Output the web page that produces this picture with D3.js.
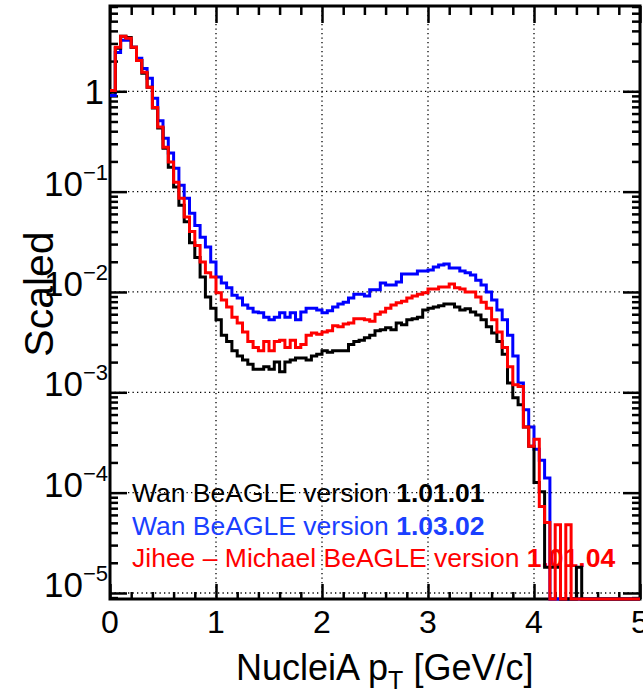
<!DOCTYPE html>
<html lang="en">
<head>
<meta charset="UTF-8" />
<title>NucleiA pT</title>
<script src="https://d3js.org/d3.v7.min.js"></script>
<style>
  body { margin: 0; background: #fff; }
  svg { display: block; font-family: 'Liberation Sans', Arial, sans-serif; }
  .domain { display: none; }
  .tick line { stroke: #000; stroke-width: 2.5; }
  .grid line { stroke: #000; stroke-width: 1.3; stroke-dasharray: 1.3 3.2; }
</style>
</head>
<body>
<div id="chart"></div>
<script>
// histogram: 0.05 GeV/c bins from 0; bins past the end of each list are empty
const binWidth = 0.05
const xDomain = [0, 5]

const blackVals = [
  0.98, 2.68, 3.53, 3.44, 2.74, 2.03, 1.51, 1.10, 0.68, 0.43,
  0.271, 0.175, 0.111, 0.073, 0.050, 0.031, 0.022, 0.0141, 0.0089, 0.0069,
  0.0053, 0.0037, 0.0032, 0.0026, 0.0023, 0.0021, 0.0019, 0.0017, 0.0017, 0.0018,
  0.0017, 0.0020, 0.0016, 0.0020, 0.0021, 0.0022, 0.0022, 0.0021, 0.0023, 0.0024,
  0.0026, 0.0025, 0.0026, 0.0026, 0.0026, 0.0030, 0.0032, 0.0033, 0.0035, 0.0037,
  0.0041, 0.0042, 0.0044, 0.0042, 0.0049, 0.0047, 0.0053, 0.0054, 0.0056, 0.0066,
  0.0069, 0.0071, 0.0073, 0.0076, 0.0076, 0.0071, 0.0066, 0.0068, 0.0063, 0.0059,
  0.0053, 0.0045, 0.0039, 0.0032, 0.0024, 0.00124, 0.00088, 0.00075, 0.00045, 0.00029,
  0.000126, 0.000102, 0.000018, 0.000018, 0.000018, 0, 0, 0, 0.000018
]
const blueVals = [
  0.91, 2.44, 3.22, 3.22, 2.74, 2.13, 1.69, 1.35, 0.85, 0.51,
  0.34, 0.242, 0.171, 0.116, 0.086, 0.061, 0.046, 0.035, 0.028, 0.0199,
  0.0141, 0.0123, 0.0110, 0.0093, 0.0087, 0.0074, 0.0069, 0.0063, 0.0062, 0.0056,
  0.0053, 0.0056, 0.0062, 0.0056, 0.0062, 0.0053, 0.0063, 0.0069, 0.0069, 0.0066,
  0.0062, 0.0065, 0.0071, 0.0076, 0.0079, 0.0087, 0.0095, 0.0095, 0.0091, 0.0105,
  0.0105, 0.0123, 0.0117, 0.0117, 0.0126, 0.0151, 0.0151, 0.0151, 0.0162, 0.0162,
  0.0166, 0.0177, 0.0186, 0.0190, 0.0173, 0.0173, 0.0162, 0.0155, 0.0148, 0.0131,
  0.0117, 0.0100, 0.0083, 0.0066, 0.0053, 0.0037, 0.0023, 0.00124, 0.00067, 0.00045,
  0.00027, 0.00021, 0.00014
]
const redVals = [
  1.02, 2.74, 3.53, 3.37, 2.74, 2.03, 1.55, 1.10, 0.69, 0.44,
  0.277, 0.197, 0.124, 0.086, 0.056, 0.040, 0.029, 0.0199, 0.0155, 0.0141,
  0.0098, 0.0083, 0.0071, 0.0056, 0.0049, 0.0040, 0.0032, 0.0028, 0.0026, 0.0032,
  0.0026, 0.0032, 0.0033, 0.0028, 0.0033, 0.0028, 0.0030, 0.0037, 0.0039, 0.0038,
  0.0040, 0.0041, 0.0046, 0.0045, 0.0048, 0.0049, 0.0054, 0.0054, 0.0053, 0.0051,
  0.0060, 0.0063, 0.0069, 0.0074, 0.0078, 0.0081, 0.0087, 0.0091, 0.0095, 0.0098,
  0.0107, 0.0107, 0.0112, 0.0112, 0.0120, 0.0110, 0.0107, 0.0100, 0.0100, 0.0089,
  0.0079, 0.0069, 0.0053, 0.0040, 0.0028, 0.0018, 0.00119, 0.00114, 0.00045, 0.00029,
  0.00034, 0.0000726, 0.0000503, 0, 0.000048, 0, 0.000048
]

const seriesColors = ['#0000ff', '#000000', '#ff0000']
const seriesVals = [blueVals, blackVals, redVals]

const legendPrefix = ['Wan BeAGLE version ', 'Wan BeAGLE version ', 'Jihee \u2013 Michael BeAGLE version ']
const legendVersion = ['1.01.01', '1.03.02', '1.01.04']
const legendColors = ['#000000', '#1a40ff', '#ff0000']

const xTicks = [0, 1, 2, 3, 4, 5]
const yDecades = [1e-5, 1e-4, 1e-3, 1e-2, 1e-1, 1]
const yLabelBase = ['10', '10', '10', '10', '10', '1']
const yLabelExp = ['\u22125', '\u22124', '\u22123', '\u22122', '\u22121', '']

const width = 643
const height = 697
const pLeft = 110, pRight = 640, pTop = 6, pBottom = 599

const svg = d3.select('#chart').append('svg')
  .attr('width', width)
  .attr('height', height)

const x = d3.scaleLinear().domain(xDomain).range([pLeft, pRight])
const y = d3.scaleLog().domain([Math.pow(10, -5.06), Math.pow(10, 0.85)]).range([pBottom, pTop])

// dotted grid
const grid = svg.append('g').attr('class', 'grid')
grid.selectAll('.gx').data(xTicks.slice(1, -1)).enter().append('line')
  .attr('x1', d => x(d)).attr('x2', d => x(d))
  .attr('y1', pTop).attr('y2', pBottom)
grid.selectAll('.gy').data(yDecades).enter().append('line')
  .attr('x1', pLeft).attr('x2', pRight)
  .attr('y1', d => y(d)).attr('y2', d => y(d))

// tick marks on all four sides, pointing inward
const minorX = d3.range(0, 5.001, 0.2).filter(v => Math.abs(v - Math.round(v)) > 1e-6)
const minorY = y.ticks().filter(v => !yDecades.some(d => Math.abs(v / d - 1) < 1e-6))

const axes = [
  [d3.axisBottom(x).tickValues(xTicks).tickSize(-15), d3.axisBottom(x).tickValues(minorX).tickSize(-7), `translate(0,${pBottom})`],
  [d3.axisTop(x).tickValues(xTicks).tickSize(-17), d3.axisTop(x).tickValues(minorX).tickSize(-9), `translate(0,${pTop})`],
  [d3.axisLeft(y).tickValues(yDecades).tickSize(-17), d3.axisLeft(y).tickValues(minorY).tickSize(-8), `translate(${pLeft},0)`],
  [d3.axisRight(y).tickValues(yDecades).tickSize(-17), d3.axisRight(y).tickValues(minorY).tickSize(-8), `translate(${pRight},0)`]
]
axes.forEach(([major, minor, tr]) => {
  svg.append('g').attr('transform', tr).call(major.tickFormat(''))
  svg.append('g').attr('transform', tr).call(minor.tickFormat(''))
})

svg.append('rect')
  .attr('x', pLeft).attr('y', pTop)
  .attr('width', pRight - pLeft).attr('height', pBottom - pTop)
  .attr('fill', 'none').attr('stroke', '#000').attr('stroke-width', 3)

// tick labels
svg.selectAll('.xl').data(xTicks).enter().append('text')
  .attr('x', d => x(d)).attr('y', 633)
  .attr('text-anchor', 'middle')
  .attr('font-size', 32)
  .text(d => d)

const yl = svg.selectAll('.yl').data(yDecades).enter().append('text')
  .attr('text-anchor', 'end')
  .attr('font-size', 35)
  .attr('x', (d, i) => (yLabelExp[i] ? 108 : 104))
  .attr('y', (d, i) => y(d) + (yLabelExp[i] ? 4 : 13))
yl.append('tspan').text((d, i) => yLabelBase[i])
yl.append('tspan')
  .attr('font-size', 22)
  .attr('dy', (d, i) => (yLabelExp[i] ? -16 : 0))
  .text((d, i) => yLabelExp[i])

// axis titles
const xt = svg.append('text')
  .attr('x', 236).attr('y', 680)
  .attr('font-size', 36)
xt.append('tspan').text('NucleiA p')
xt.append('tspan').attr('font-size', 25).attr('dy', 9).text('T')
xt.append('tspan').attr('dy', -9).text(' [GeV/c]')

svg.append('text')
  .attr('transform', 'translate(53,294) rotate(-90)')
  .attr('text-anchor', 'middle')
  .attr('font-size', 41)
  .text('Scaled')

// legend text
const lg = svg.selectAll('.lg').data(legendPrefix).enter().append('text')
  .attr('x', 132)
  .attr('y', (d, i) => 502 + i * 32.5)
  .attr('font-size', 26.5)
  .attr('fill', (d, i) => legendColors[i])
lg.append('tspan').text(d => d)
lg.append('tspan').attr('font-weight', 'bold').text((d, i) => legendVersion[i])

// histograms as step lines; empty bins sit on the frame bottom
const line = d3.line()
  .x(d => x(d[0]))
  .y(d => (d[1] > 0 ? y(d[1]) : pBottom))
  .curve(d3.curveStepAfter)

seriesVals.forEach((vals, k) => {
  const nBins = Math.round((xDomain[1] - xDomain[0]) / binWidth)
  const pts = d3.range(nBins).map(i => [i * binWidth, i < vals.length ? vals[i] : 0])
  pts.push([xDomain[1], 0])
  svg.append('path')
    .datum(pts)
    .attr('d', line)
    .attr('fill', 'none')
    .attr('stroke', seriesColors[k])
    .attr('stroke-width', 3)
})
</script>
</body>
</html>
